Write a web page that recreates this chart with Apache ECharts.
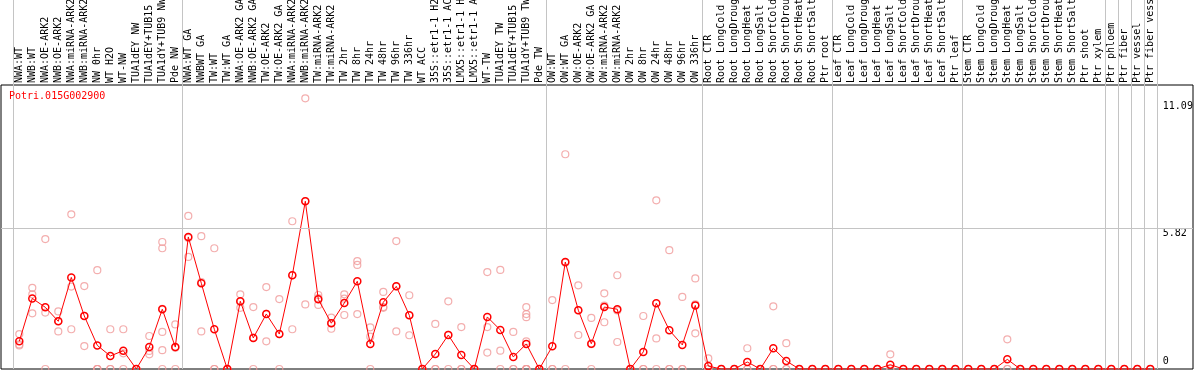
<!DOCTYPE html>
<html><head><meta charset="utf-8">
<script src="https://cdn.jsdelivr.net/npm/echarts@6/dist/echarts.min.js"></script>
<style>html,body{margin:0;padding:0;background:#fff}#c{width:1194px;height:370px}</style>
</head><body><div id="c"></div>
<script>
const geneId = 'Potri.015G002900';
const categories = [
 'NWA:WT','NWB:WT','NWA:OE-ARK2','NWB:OE-ARK2','NWA:miRNA-ARK2','NWB:miRNA-ARK2','NW 0hr','WT H2O','WT-NW','TUA1dEY NW','TUA1dEY+TUB15 NW','TUA1dY+TUB9 NW','Pde NW',
 'NWA:WT GA','NWBWT GA','TW:WT','TW:WT GA','NWA:OE-ARK2 GA','NWB:OE-ARK2 GA','TW:OE-ARK2','TW:OE-ARK2 GA','NWA:miRNA-ARK2 GA','NWB:miRNA-ARK2 GA','TW:miRNA-ARK2','TW:miRNA-ARK2 GA',
 'TW 2hr','TW 8hr','TW 24hr','TW 48hr','TW 96hr','TW 336hr','WT ACC','35S::etr1-1 H2O','35S::etr1-1 ACC','LMX5::etr1-1 H2O','LMX5::etr1-1 ACC','WT-TW','TUA1dEY TW','TUA1dEY+TUB15 TW','TUA1dY+TUB9 TW','Pde TW',
 'OW:WT','OW:WT GA','OW:OE-ARK2','OW:OE-ARK2 GA','OW:miRNA-ARK2','OW:miRNA-ARK2 GA','OW 2hr','OW 8hr','OW 24hr','OW 48hr','OW 96hr','OW 336hr',
 'Root CTR','Root LongCold','Root LongDrought','Root LongHeat','Root LongSalt','Root ShortCold','Root ShortDrought','Root ShortHeat','Root ShortSalt','Ptr root',
 'Leaf CTR','Leaf LongCold','Leaf LongDrought','Leaf LongHeat','Leaf LongSalt','Leaf ShortCold','Leaf ShortDrought','Leaf ShortHeat','Leaf ShortSalt','Ptr leaf',
 'Stem CTR','Stem LongCold','Stem LongDrought','Stem LongHeat','Stem LongSalt','Stem ShortCold','Stem ShortDrought','Stem ShortHeat','Stem ShortSalt','Ptr shoot','Ptr xylem',
 'Ptr phloem','Ptr fiber','Ptr vessel','Ptr fiber vessel'
];
const means = [
 1.15,2.93,2.56,1.98,3.80,2.20,0.98,0.54,0.76,0,0.91,2.48,0.91,
 5.48,3.56,1.65,0,2.81,1.29,2.28,1.45,3.89,6.96,2.89,1.90,
 2.74,3.64,1.04,2.77,3.43,2.23,0,0.62,1.41,0.58,0,2.16,1.62,0.50,1.04,0,
 0.94,4.44,2.44,1.05,2.57,2.48,0,0.71,2.73,1.61,1.00,2.64,
 0.12,0,0,0.29,0,0.86,0.33,0,0,0,
 0,0,0,0,0.18,0,0,0,0,0,
 0,0,0,0.40,0,0,0,0,0,0,0,
 0,0,0,0
];
const replicates = [
 [1.45,1.02,0.98],[3.37,3.10,2.31],[5.39,2.34,0],[2.39,1.99,1.56],[6.42,3.42,1.65],[3.44,2.21,0.95],[4.10,0,0,0],[1.65,0,0],[1.65,0.65,0],[0,0,0],[1.37,0.75,0.61],[5.27,5.01,2.50,1.54,0.78,0],[1.85,0.88,0],
 [6.35,5.44,4.65],[5.51,3.61,1.56],[5.01,0,0],[0,0,0],[3.10,2.79,2.54],[2.57,1.30,0],[3.40,2.29,1.15],[2.90,1.45,0],[6.13,3.89,1.65],[11.23,6.97,2.68],[3.07,2.94,2.66],[2.13,1.90,1.67],
 [3.10,2.92,2.24],[4.48,4.32,2.28],[1.73,1.34,0],[3.20,2.57,2.54],[5.31,3.43,1.56],[3.06,2.23,1.40],[0,0,0],[1.87,0,0],[2.81,1.42,0],[1.74,0,0],[0,0,0],[4.02,1.74,0.68],[4.11,0.76,0],[1.54,0,0],[2.57,2.28,2.15,1.15,0,0,0,0],[0,0,0],
 [2.86,0,0],[8.91,4.41,0],[3.47,2.44,1.41],[2.12,1.03,0],[3.14,2.63,1.94],[3.89,2.43,1.12],[0,0,0],[2.20,0,0],[7.00,1.27,0],[4.93,0,0],[2.99,0,0],[3.76,2.68,1.48],
 [0.44,0,0],[0,0,0],[0,0,0],[0.86,0,0],[0,0,0],[2.60,0,0],[1.07,0,0],[0,0,0],[0,0,0],[0,0,0],
 [0,0,0],[0,0,0],[0,0,0],[0,0,0],[0.61,0,0],[0,0,0],[0,0,0],[0,0,0],[0,0,0],[0,0,0],
 [0,0,0],[0,0,0],[0,0,0],[1.23,0,0],[0,0,0],[0,0,0],[0,0,0],[0,0,0],[0,0,0],[0,0,0],[0,0,0],
 [0,0,0],[0,0,0],[0,0,0],[0,0,0]
];
const yTickValues = [0, 5.82, 11.09];
const gridLineValue = 5.82;
const groupStarts = [0, 13, 41, 53, 63, 73, 84, 85, 86, 87];

// layout constants (pixels)
const PX_PER_UNIT = 24.1;
const yMaxMain = 369 / PX_PER_UNIT;
const yMaxFrame = 284 / PX_PER_UNIT;

const repPoints = [];
replicates.forEach((arr, i) => arr.forEach(v => repPoints.push([i, v])));

const MONO = 'DejaVu Sans Mono';
const chart = echarts.init(document.getElementById('c'), null, {renderer: 'canvas'});
chart.setOption({
  animation: false,
  title: {text: geneId, left: 9, top: 91, padding: 0,
    textStyle: {color: '#ff0000', fontFamily: MONO, fontSize: 10, fontWeight: 'normal'}},
  grid: [
    {left: 12.8, right: 37.2, top: 0, bottom: 1, containLabel: false, outerBoundsMode: 'none'},
    {left: 1, right: 1, top: 85, bottom: 1, containLabel: false, outerBoundsMode: 'none',
      show: true, borderColor: '#000', borderWidth: 1, backgroundColor: 'transparent'}
  ],
  xAxis: [
    {type: 'category', data: categories, gridIndex: 0, position: 'top', offset: -85, boundaryGap: true,
      axisLine: {show: false}, axisTick: {show: false},
      axisLabel: {rotate: 90, interval: 0, margin: 2, fontFamily: MONO, fontSize: 10, color: '#000'},
      splitLine: {show: true, interval: (i) => groupStarts.includes(i), lineStyle: {color: '#c4c4c4', width: 1}}},
    {type: 'value', gridIndex: 1, min: 0, max: 1, show: false}
  ],
  yAxis: [
    {type: 'value', gridIndex: 0, min: 0, max: yMaxMain, position: 'right',
      axisLine: {show: false}, axisTick: {show: false}, splitLine: {show: false},
      axisLabel: {customValues: yTickValues, margin: 6, fontFamily: MONO, fontSize: 10, color: '#000',
        formatter: (v) => v === 0 ? '{z|0}' : '{t|' + v + '}',
        rich: {t: {padding: [9, 0, 0, 0], fontFamily: MONO, fontSize: 10, color: '#000'},
               z: {padding: [0, 0, 15, 0], fontFamily: MONO, fontSize: 10, color: '#000'}}}},
    {type: 'value', gridIndex: 1, min: 0, max: yMaxFrame, show: false}
  ],
  series: [
    {type: 'line', xAxisIndex: 1, yAxisIndex: 1, data: [[0, 0], [1, 0]], symbol: 'none', silent: true,
      lineStyle: {opacity: 0}, z: 1,
      markLine: {silent: true, symbol: 'none', label: {show: false}, animation: false,
        lineStyle: {color: '#c4c4c4', width: 1, type: 'solid'}, data: [{yAxis: gridLineValue}]}},
    {type: 'scatter', xAxisIndex: 0, yAxisIndex: 0, data: repPoints, symbol: 'circle', symbolSize: 7, silent: true,
      itemStyle: {color: 'rgba(0,0,0,0)', borderColor: '#f09a9a', borderWidth: 1.2}, z: 3},
    {type: 'line', xAxisIndex: 0, yAxisIndex: 0, data: means, symbol: 'circle', symbolSize: 7, showAllSymbol: true, silent: true,
      lineStyle: {color: '#ff0000', width: 1},
      itemStyle: {color: 'rgba(0,0,0,0)', borderColor: '#ff0000', borderWidth: 1.5}, z: 4}
  ]
});
</script></body></html>
